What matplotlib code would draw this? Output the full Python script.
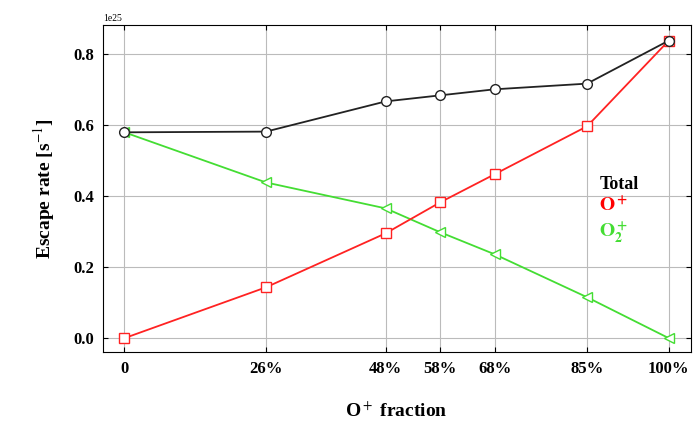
import matplotlib.pyplot as plt
import matplotlib.ticker as mticker
import numpy as np

frac = [0, 26, 48, 58, 68, 85, 100]
frac_labels = ['0', '26%', '48%', '58%', '68%', '85%', '100%']
total = [0.579, 0.581, 0.666, 0.683, 0.700, 0.716, 0.837]
o_plus = [0.0, 0.143, 0.295, 0.382, 0.461, 0.596, 0.837]
o2_plus = [0.579, 0.438, 0.365, 0.298, 0.236, 0.115, 0.0]

plt.rcParams['font.family'] = ['Liberation Serif', 'DejaVu Serif']
plt.rcParams['mathtext.fontset'] = 'stix'


class Fmt25(mticker.ScalarFormatter):
    def _set_order_of_magnitude(self):
        self.orderOfMagnitude = 25

    def _set_format(self):
        self.format = '%1.1f'


fig = plt.figure(figsize=(6.94, 4.22), dpi=100)
ax = fig.add_axes([0.148, 0.165, 0.847, 0.775])

s = 1e25
ax.plot(frac, np.array(o2_plus) * s, color='#44dd33', marker='<', mfc='white', ms=7, lw=1.3, zorder=3)
ax.plot(frac, np.array(o_plus) * s, color='#ff2222', marker='s', mfc='white', ms=7, lw=1.3, zorder=3)
ax.plot(frac, np.array(total) * s, color='#222222', marker='o', mfc='white', ms=7, lw=1.3, zorder=4)

ax.set_xlim(-4, 104)
ax.set_ylim(-0.04e25, 0.88e25)
ax.set_xticks(frac)
ax.set_xticklabels(frac_labels, fontweight='bold', fontsize=12)
ax.set_yticks(np.array([0, 0.2, 0.4, 0.6, 0.8]) * s)
ax.yaxis.set_major_formatter(Fmt25())
for t in ax.get_yticklabels():
    t.set_fontweight('bold')
    t.set_fontsize(12)
ax.yaxis.get_offset_text().set_fontsize(7)
ax.tick_params(direction='in', top=True, right=True, pad=6)
ax.grid(True, color='#bbbbbb', lw=0.8)

ax.set_xlabel(r'O$^+$ fraction', fontweight='bold', fontsize=14, labelpad=18)
ax.set_ylabel(r'Escape rate [s$^{-1}$]', fontweight='bold', fontsize=14, labelpad=12)

ax.text(0.845, 0.50, 'Total', transform=ax.transAxes, fontweight='bold', fontsize=13, color='black')
ax.text(0.845, 0.43, r'$\mathbf{O^+}$', transform=ax.transAxes, fontsize=14, color='red')
ax.text(0.845, 0.35, r'$\mathbf{O_2^+}$', transform=ax.transAxes, fontsize=14, color='#44dd33')

fig.savefig('out.png', dpi=100)
